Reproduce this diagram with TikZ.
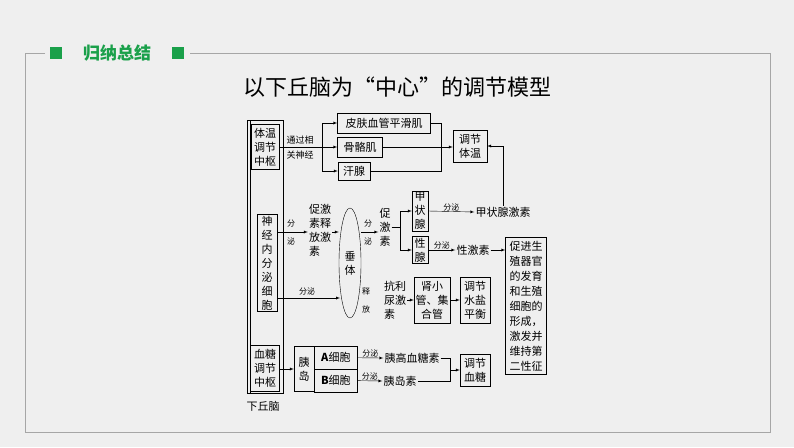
\documentclass[tikz,border=0pt]{standalone}
\usepackage{fontspec}
\setmainfont{Noto Sans CJK SC}
\usetikzlibrary{arrows,calc,positioning,shapes.geometric}
\definecolor{bggray}{HTML}{EFEFEF}
\definecolor{headgreen}{HTML}{1AA04A}
\tikzset{
    >=latex,
    kasse/.style={
           draw=black, thin,
           inner sep=1.5pt,
           align=center,
           font=\fontsize{11}{14}\selectfont},
    tekst/.style={
           inner sep=1pt,
           align=center,
           font=\fontsize{11}{14}\selectfont},
    lille/.style={
           inner sep=0.5pt,
           align=center,
           font=\fontsize{8}{9}\selectfont},
    pil/.style={
           ->,
           thin},
    lin/.style={
           thin}
}
\begin{document}
\begin{tikzpicture}[x=1pt,y=-1pt]
        \fill[bggray] (0,0) rectangle (794,447);
        \useasboundingbox (0,0) rectangle (794,447);

        % ramme og overskrift
        \draw[gray!70, thin] (45,53) -- (25,53) -- (25,432) -- (770,432) -- (770,53) -- (190,53);
        \fill[headgreen] (50,47) rectangle (62,59);
        \fill[headgreen] (172,47) rectangle (184,59);
        \node[font=\fontsize{17}{17}\selectfont\bfseries, text=headgreen] (head) at (117,53) {归纳总结};
        \node[font=\fontsize{22}{22}\selectfont] (title) at (397,87) {以下丘脑为“中心”的调节模型};

        % hypothalamus
        \draw[lin] (247,120) rectangle (283,393);
        \draw[lin] (250,120) -- (250,393);
        \node[kasse, minimum width=28, minimum height=45] (tw) at (265,147) {体温\\调节\\中枢};
        \node[kasse, minimum width=20, minimum height=93] (sj) at (267,263) {神\\经\\内\\分\\泌\\细\\胞};
        \node[kasse, minimum width=29, minimum height=46] (xt) at (265,368) {血糖\\调节\\中枢};
        \node[tekst] (xqn) at (263,406) {下丘脑};

        % temperature
        \node[kasse, minimum width=93, minimum height=20] (pf) at (384,123) {皮肤血管平滑肌};
        \node[kasse, minimum width=45, minimum height=20] (gg) at (360,147) {骨骼肌};
        \node[kasse, minimum width=32, minimum height=18] (hx) at (354,171) {汗腺};
        \node[kasse, minimum width=34, minimum height=32] (tjtw) at (470,146) {调节\\体温};
        \coordinate (b1) at (322,147);
        \draw[lin] (tw.east |- b1) -- (b1);
        \node[lille, font=\fontsize{9}{10}\selectfont] (tgx) at (300,140) {通过相};
        \node[lille, font=\fontsize{9}{10}\selectfont] (gsj) at (300,155) {关神经};
        \draw[pil] (b1) |- (pf.west);
        \draw[pil] (b1) -- (gg.west);
        \draw[pil] (b1) |- (hx.west);
        \draw[pil] (gg.east) -- (gg.east -| tjtw.west);
        \draw[lin] (pf.east) -| (441,171) -- (hx.east);

        % pituitary
        \node[tekst] (cjs) at (320,230) {促激\\素释\\放激\\素\phantom{激}};
        \draw[pil] (sj.east |- 0,232) -- (cjs.west |- 0,232);
        \node[lille] (fm1) at (291,232) {分\\\\泌};
        \node[draw, ellipse, minimum width=22, minimum height=110, inner sep=0pt, align=center,
              font=\fontsize{11}{14}\selectfont] (ct) at (350,263) {垂\\体};
        \draw[pil] (cjs.east |- 0,232) -- (ct.west |- 0,232);
        \node[tekst] (cjs2) at (385,227) {促\\激\\素};
        \draw[pil] (ct.east |- 0,232) -- (cjs2.west |- 0,232);
        \node[lille] (fm2) at (368,232) {分\\\\泌};
        \node[kasse, minimum width=16, minimum height=38] (jzx) at (420,211) {甲\\状\\腺};
        \node[kasse, minimum width=16, minimum height=24] (xx) at (420,250) {性\\腺};
        \coordinate (b2) at (400,227);
        \draw[lin] (cjs2.east |- b2) -- (b2);
        \draw[pil] (b2) |- (jzx.west);
        \draw[pil] (b2) |- (xx.west);
        \node[tekst] (jzxjs) at (503,212) {甲状腺激素};
        \draw[pil] (jzx.east) -- (jzxjs.west) node[lille, midway, above] {分泌};
        \draw[pil] (jzxjs.north) -- (503,146) -- (tjtw.east);
        \node[tekst] (xjs) at (473,250) {性激素};
        \draw[pil] (xx.east) -- (xjs.west) node[lille, midway, above] {分泌};
        \node[kasse, minimum width=41, minimum height=137, align=left,
              font=\fontsize{11}{15}\selectfont] (cj) at (526,306) {促进生\\殖器官\\的发育\\和生殖\\细胞的\\形成，\\激发并\\维持第\\二性征};
        \draw[pil] (xjs.east) -- (xjs.east -| cj.west);

        % water
        \draw[pil] (sj.east |- 0,298) -- (340,298);
        \node[lille] (fm3) at (307,291) {分泌};
        \node[lille] (sf) at (366,300) {释\\\\放};
        \node[tekst] (kl) at (395,300) {抗利\\尿激\\素\phantom{激}};
        \node[kasse, minimum width=30, minimum height=46] (sxg) at (432,300) {肾小\\管、集\\合管};
        \node[kasse, minimum width=30, minimum height=46] (sy) at (475,300) {调节\\水盐\\平衡};
        \draw[pil] (kl.east |- 0,300) -- (sxg.west);
        \draw[pil] (sxg.east) -- (sy.west);

        % glucose
        \node[kasse, minimum width=20, minimum height=45] (yd) at (304,369) {胰\\岛};
        \node[kasse, minimum width=43, minimum height=22.5, anchor=north west] (ax) at (yd.north east) {\textbf{A}细胞};
        \node[kasse, minimum width=43, minimum height=22.5, anchor=north west] (bx) at (ax.south west) {\textbf{B}细胞};
        \draw[pil] (xt.east |- yd.west) -- (yd.west);
        \node[tekst] (ygx) at (412,358) {胰高血糖素};
        \node[tekst] (ydsu) at (400,381) {胰岛素};
        \draw[pil] (ax.east) -- (ygx.west) node[lille, midway, above] {分泌};
        \draw[pil] (bx.east) -- (ydsu.west) node[lille, midway, above] {分泌};
        \node[kasse, minimum width=30, minimum height=32] (tjxt) at (475,370) {调节\\血糖};
        \draw[lin] (ygx.east) -| (450,381) -- (ydsu.east);
        \draw[pil] (450,370) -- (tjxt.west);
\end{tikzpicture}
\end{document}
